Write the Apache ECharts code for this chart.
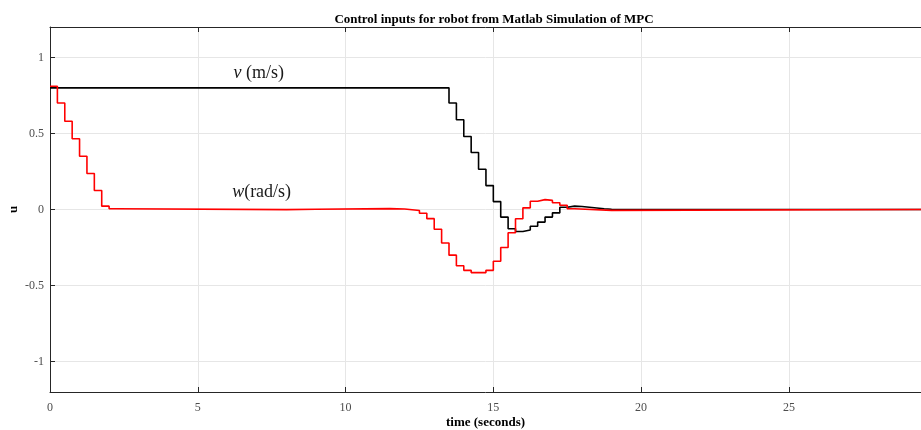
<!DOCTYPE html>
<html>
<head>
<meta charset="utf-8">
<script src="https://cdn.jsdelivr.net/npm/echarts@6/dist/echarts.min.js"></script>
<style>
  html, body { margin: 0; padding: 0; background: #fff; }
  #chart { width: 921px; height: 430px; }
</style>
</head>
<body>
<div id="chart"></div>
<script>
  // change points of the zero-order-hold inputs (value holds until next time)
  const vTimes = [0, 13.5, 13.75, 14, 14.25, 14.5, 14.75, 15, 15.25, 15.5, 15.75, 16, 16.25, 16.5, 16.75, 17, 17.25, 17.5, 17.75, 18, 18.25, 18.5, 18.75, 19, 29.47]
  const vValues = [0.8, 0.70, 0.59, 0.48, 0.375, 0.265, 0.157, 0.052, -0.05, -0.127, -0.145, -0.135, -0.11, -0.083, -0.05, -0.022, 0.015, 0.022, 0.02, 0.015, 0.01, 0.005, 0.002, 0, 0]

  const wTimes = [0, 0.25, 0.5, 0.75, 1, 1.25, 1.5, 1.75, 2, 2.25, 8, 9, 11.5, 12, 12.25, 12.5, 12.75, 13, 13.25, 13.5, 13.75, 14, 14.25, 14.75, 15, 15.25, 15.5, 15.75, 16, 16.25, 16.5, 16.75, 17, 17.25, 17.5, 17.75, 19, 29.47]
  const wValues = [0.81, 0.70, 0.58, 0.465, 0.35, 0.237, 0.125, 0.022, 0.005, -0.001, 0.002, 0.006, 0.003, -0.002, -0.007, -0.025, -0.06, -0.13, -0.22, -0.30, -0.37, -0.40, -0.415, -0.40, -0.34, -0.25, -0.153, -0.061, 0.011, 0.054, 0.065, 0.06, 0.044, 0.028, 0.005, -0.006, 0, 0]

  const yTicks = [-1, -0.5, 0, 0.5, 1]
  const vLabelAt = [7.06, 0.895]
  const wLabelAt = [7.16, 0.111]

  const serif = '"Liberation Serif", "DejaVu Serif", serif'
  const axisColor = '#262626'
  const labelColor = '#4d4d4d'

  const zip = (xs, ys) => xs.map((x, i) => [x, ys[i]])

  const labelPoint = (coord, text) => ({
    symbol: 'rect',
    symbolSize: 1,
    silent: true,
    itemStyle: { color: 'rgba(0,0,0,0)' },
    data: [{ coord: coord }],
    label: {
      show: true,
      position: 'inside',
      formatter: text,
      fontFamily: serif,
      fontSize: 18,
      color: '#1a1a1a',
      rich: {
        i: { fontFamily: serif, fontStyle: 'italic', fontSize: 18, color: '#1a1a1a' },
      },
    },
  })

  const chart = echarts.init(document.getElementById('chart'), null, { renderer: 'canvas' })
  chart.setOption({
    animation: false,
    backgroundColor: '#fff',
    title: {
      text: 'Control inputs for robot from Matlab Simulation of MPC',
      left: 489,
      top: 8,
      textAlign: 'center',
      textStyle: { fontFamily: serif, fontWeight: 'bold', fontSize: 13, color: '#000' },
    },
    grid: { left: 50, right: 0, top: 27, bottom: 38, outerBoundsMode: 'none' },
    xAxis: [
      {
        type: 'value',
        min: 0,
        max: 29.47,
        interval: 5,
        name: 'time (seconds)',
        nameLocation: 'middle',
        nameGap: 24,
        nameMoveOverlap: false,
        nameTextStyle: { fontFamily: serif, fontWeight: 'bold', fontSize: 13, color: '#000' },
        axisLine: { show: true, onZero: false, lineStyle: { color: axisColor, width: 1 } },
        axisTick: { show: true, inside: true, length: 5, lineStyle: { color: axisColor } },
        axisLabel: { fontFamily: serif, fontSize: 12, color: labelColor, margin: 10, showMaxLabel: false },
        splitLine: { show: true, lineStyle: { color: '#e6e6e6', width: 1 } },
      },
      {
        type: 'value',
        position: 'top',
        min: 0,
        max: 29.47,
        interval: 5,
        axisLine: { show: true, onZero: false, lineStyle: { color: axisColor, width: 1 } },
        axisTick: { show: true, inside: true, length: 5, lineStyle: { color: axisColor } },
        axisLabel: { show: false },
        splitLine: { show: false },
      },
    ],
    yAxis: {
      type: 'value',
      min: -1.2,
      max: 1.2,
      name: 'u',
      nameLocation: 'middle',
      nameGap: 30,
      nameRotate: 90,
      nameMoveOverlap: false,
      nameTextStyle: { fontFamily: serif, fontWeight: 'bold', fontSize: 13, color: '#000' },
      axisLine: { show: true, onZero: false, lineStyle: { color: axisColor, width: 1 } },
      axisTick: { show: true, inside: true, length: 5, customValues: yTicks, lineStyle: { color: axisColor } },
      axisLabel: { fontFamily: serif, fontSize: 12, color: labelColor, margin: 6, customValues: yTicks },
      splitLine: { show: true, lineStyle: { color: '#e6e6e6', width: 1 } },
    },
    series: [
      {
        name: 'v',
        type: 'line',
        step: 'end',
        symbol: 'none',
        data: zip(vTimes, vValues),
        lineStyle: { color: '#000', width: 1.6 },
        z: 3,
        markPoint: labelPoint(vLabelAt, '{i|v} (m/s)'),
      },
      {
        name: 'w',
        type: 'line',
        step: 'end',
        symbol: 'none',
        data: zip(wTimes, wValues),
        lineStyle: { color: '#ff0000', width: 1.6 },
        z: 4,
        markPoint: labelPoint(wLabelAt, '{i|w}(rad/s)'),
      },
    ],
  })
</script>
</body>
</html>
